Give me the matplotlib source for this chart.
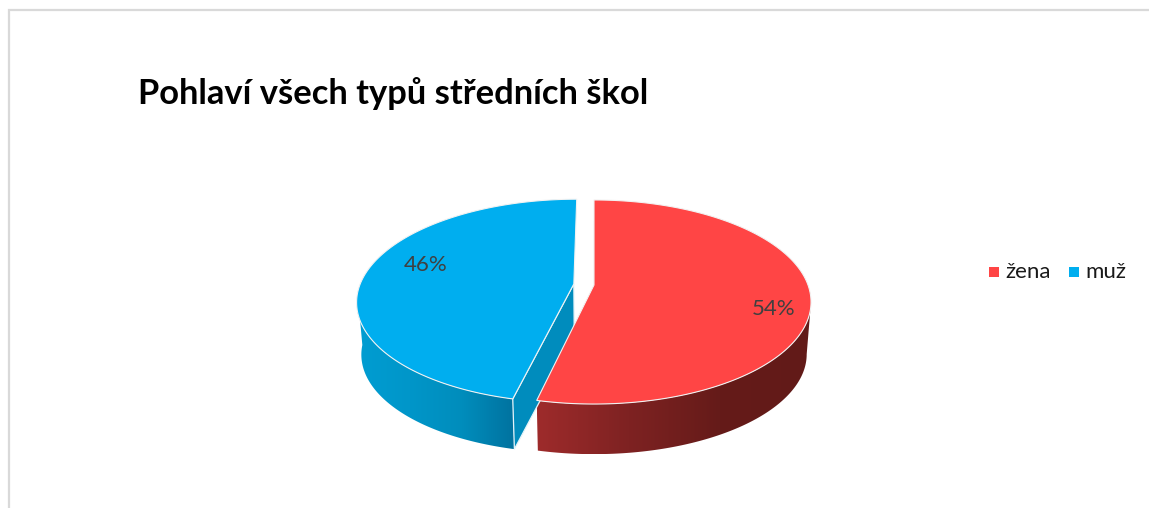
#!/usr/bin/env python3
"""
plot.py - 3D look pie: gender share across all secondary school types
"""

import numpy as np
import matplotlib
matplotlib.use('Agg')
import matplotlib.pyplot as plt
from matplotlib.colors import LinearSegmentedColormap
from matplotlib.patches import Polygon

plt.rcParams['font.family'] = ['Lato', 'DejaVu Sans']

# --- Data ---
title = 'Pohlaví všech typů středních škol'
categories = ['žena', 'muž']
shares = [53.6, 46.4]
explode = [0.0, 0.095]

# --- Style ---
top_colors = ['#FF4545', '#00AEEF']
side_colors = [['#9E2B2B', '#7E2222', '#651B19', '#621A18'],
               ['#009DD2', '#0096C9', '#008DBC', '#00729F']]
wall_color = '#008CBD'

# pie geometry in pixels
CX, CY = 594, 285
A, B, K = 214, 99.2, 1 / 6
DEPTH, BOTTOM_SCALE = 52.5, 0.98


def project(theta_deg, ex=(0, 0), radius=1.0, scale=1.0, dy=0):
    # theta clockwise from 12 o'clock, tilted circle in simple perspective
    t = np.radians(theta_deg)
    u = radius * np.sin(t) + ex[0]
    v = radius * np.cos(t) + ex[1]
    w = 1 + K * v
    return CX + scale * A * u / w, CY + dy - scale * B * v / w


fig, ax = plt.subplots(figsize=(11.49, 5.08), dpi=100)
fig.subplots_adjust(0, 0, 1, 1)
ax.set_axis_off()

# frame of the chart area
ax.plot([8.5, 8.5, 1149], [508, 10, 10], color='#D9D9D9', lw=1.6, solid_joinstyle='miter')

# slice angles, clockwise from the top
bounds = np.concatenate([[0], np.cumsum(shares) / np.sum(shares) * 360])
mids = (bounds[:-1] + bounds[1:]) / 2
offsets = [(e * np.sin(np.radians(m)), e * np.cos(np.radians(m))) for e, m in zip(explode, mids)]

# visible outer walls, with horizontal gradient
rims = [(99.6, bounds[1]), (bounds[1], 265)]
for i, (start, end) in enumerate(rims):
    th = np.linspace(start, end, 120)
    xt, yt = project(th, offsets[i])
    xb, yb = project(th[::-1], offsets[i], scale=BOTTOM_SCALE, dy=DEPTH)
    verts = np.column_stack([np.r_[xt, xb], np.r_[yt, yb]])
    poly = Polygon(verts, closed=True, fc='none', ec='none')
    ax.add_patch(poly)
    cmap = LinearSegmentedColormap.from_list('rim%d' % i, side_colors[i])
    grad = np.linspace(0, 1, 256).reshape(1, -1)
    im = ax.imshow(grad, cmap=cmap, aspect='auto', zorder=2,
                   extent=[verts[:, 0].min(), verts[:, 0].max(), verts[:, 1].max(), verts[:, 1].min()])
    im.set_clip_path(poly)

# cut wall of the exploded slice
x0, y0 = project(0, offsets[1], radius=0)
x1, y1 = project(bounds[1], offsets[1])
x2, y2 = project(bounds[1], offsets[1], scale=BOTTOM_SCALE, dy=DEPTH)
x3, y3 = project(0, offsets[1], radius=0, scale=BOTTOM_SCALE, dy=DEPTH)
ax.add_patch(Polygon([(x0, y0), (x1, y1), (x2, y2), (x3, y3)], closed=True, fc=wall_color,
                     ec='#E4F3F9', lw=0.9, zorder=3, joinstyle='round'))

# thin back wall of the red slice
ax.plot([CX - 0.5, CX - 0.5], [CY - 64, CY], color='#A8A8A8', lw=0.8, zorder=3)

# top faces
for i in range(len(shares)):
    th = np.linspace(bounds[i], bounds[i + 1], 200)
    xs, ys = project(th, offsets[i])
    ax0, ay0 = project(0, offsets[i], radius=0)
    ax.add_patch(Polygon(np.column_stack([np.r_[ax0, xs], np.r_[ay0, ys]]), closed=True,
                         fc=top_colors[i], ec='#F2F2F2', lw=0.8, zorder=4))

# data labels
label_pos = [(774, 309), (426, 265)]
for share, (lx, ly) in zip(shares, label_pos):
    ax.text(lx, ly, f'{share:.0f}%', color='#404040', fontsize=16, ha='center', va='center', zorder=5)

# legend
legend_x = [994, 1074]
for name, col, lx in zip(categories, top_colors, legend_x):
    ax.scatter([lx], [272], marker='s', s=42, color=col, linewidths=0, zorder=5)
    ax.text(lx + 11, 272, name, color='#1A1A1A', fontsize=16, ha='left', va='center')

ax.text(138, 104, title, color='black', fontsize=24.8, fontweight='bold', ha='left', va='baseline')

ax.set_xlim(0, 1149)
ax.set_ylim(508, 0)

plt.savefig('out.png', dpi=100, facecolor='white')
plt.close()
